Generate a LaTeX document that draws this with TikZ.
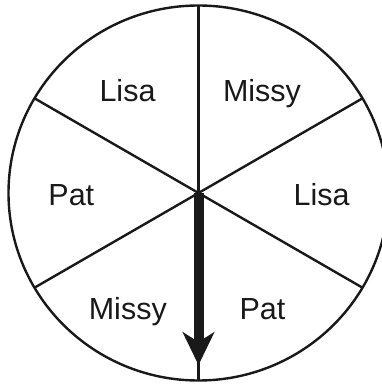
\documentclass[tikz,border=0pt]{standalone}
\usepackage{fontspec}
\setmainfont{Liberation Sans}
\usetikzlibrary{calc}
\begin{document}
\begin{tikzpicture}[x=1pt,y=1pt,
  rim/.style={line width=2.4pt,black!90},
  spoke/.style={line width=2.4pt,black!90},
  lbl/.style={anchor=base,inner sep=0pt,font=\fontsize{30.5}{30.5}\selectfont,text=black!90}]
\useasboundingbox (0,0) rectangle (382,384);
\coordinate (c) at (198.5,191);
\draw[rim] (c) ellipse [x radius=190, y radius=187.5];
\coordinate (top) at (198.5,378.5);
\coordinate (bot) at (198.5,3.5);
\coordinate (ul) at ($(c)+(150:189.4)$);
\coordinate (ur) at ($(c)+(30:189.4)$);
\coordinate (ll) at ($(c)+(210:189.4)$);
\coordinate (lr) at ($(c)+(330:189.4)$);
\draw[spoke] (top) -- (bot);
\draw[spoke] (ul) -- (lr);
\draw[spoke] (ur) -- (ll);
% pointer
\coordinate (tip) at (198.5,19);
\fill[black!90] ($(c)+(-5,0)$) rectangle ($(c)+(5,-150)$);
\fill[black!90] (182.3,52.3) -- (tip) -- (214.7,52.3) -- (198.5,42) -- cycle;
% labels
\node[lbl] (l1) at (127.5,282.3) {Lisa};
\node[lbl] (l2) at (262,282.3) {Missy};
\node[lbl] (l3) at (71.3,178.7) {Pat};
\node[lbl] (l4) at (321.7,178.7) {Lisa};
\node[lbl] (l5) at (127.8,64.3) {Missy};
\node[lbl] (l6) at (262.5,64.3) {Pat};
\end{tikzpicture}
\end{document}
